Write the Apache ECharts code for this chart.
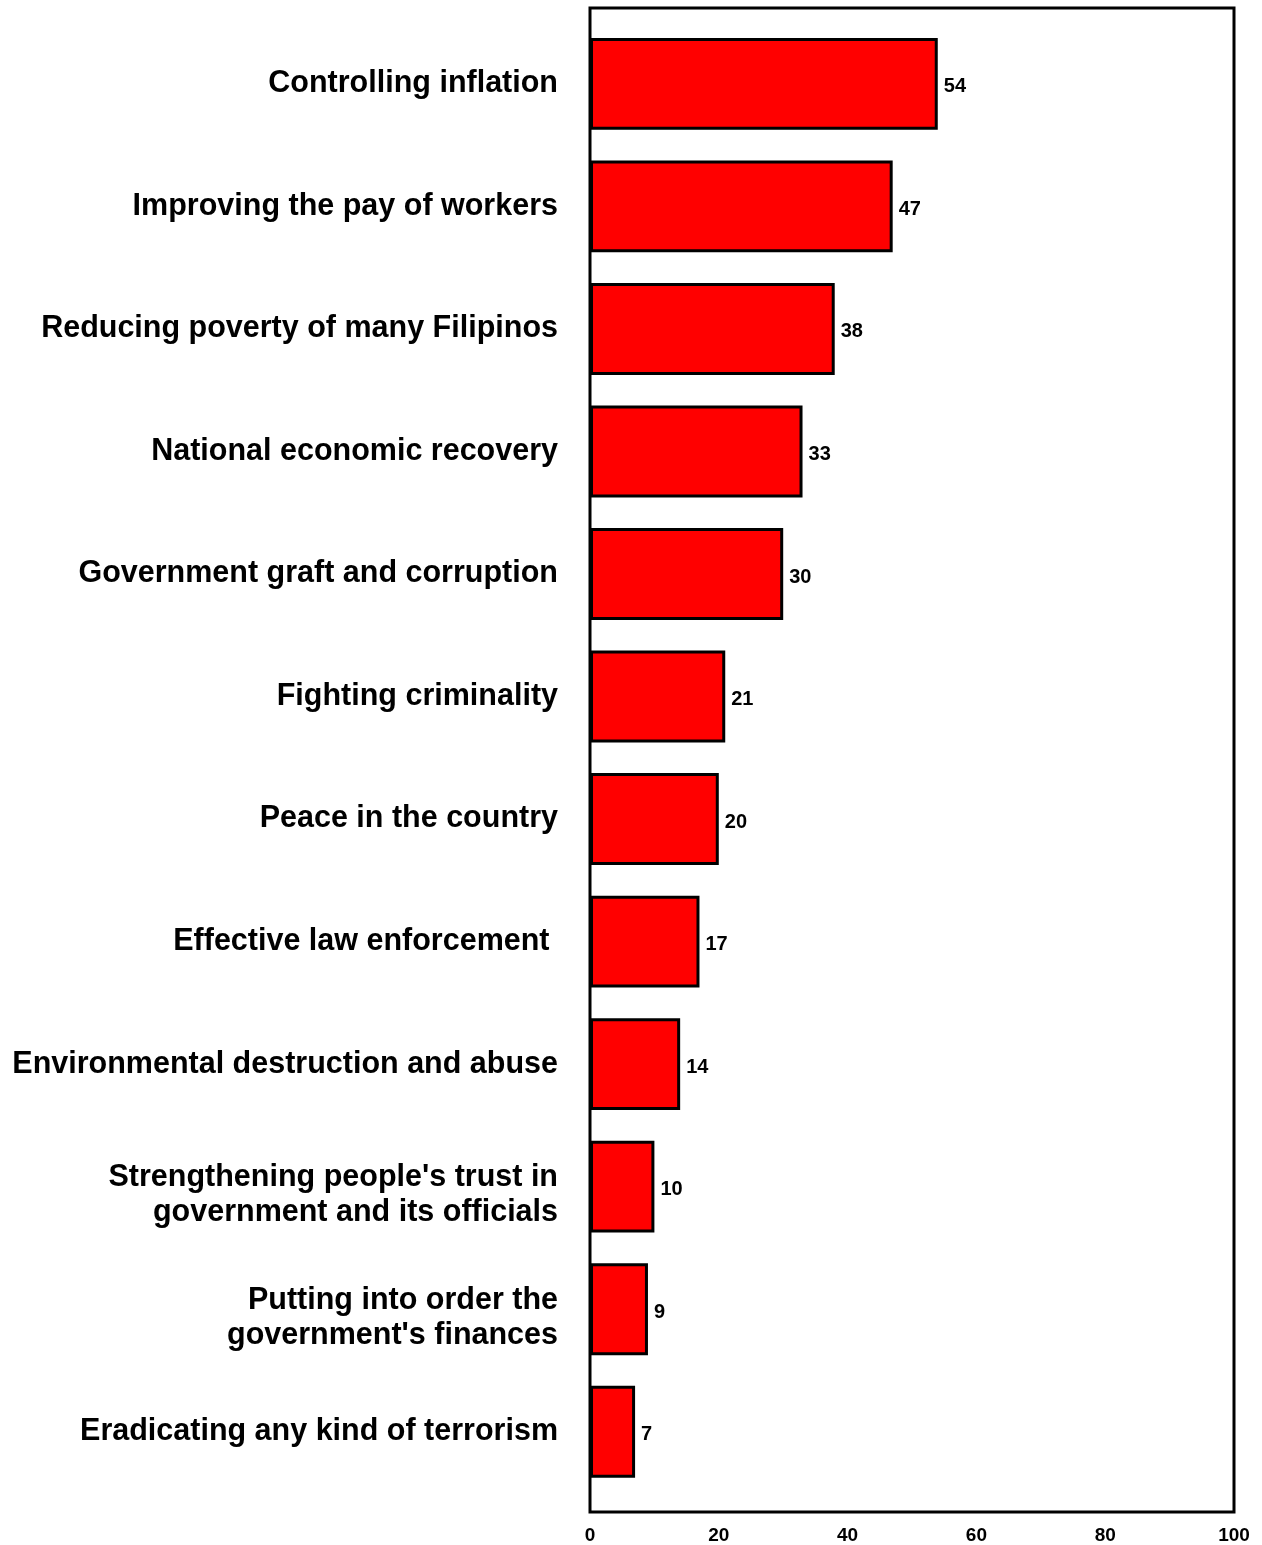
<!DOCTYPE html>
<html>
<head>
<meta charset="utf-8">
<script src="https://cdn.jsdelivr.net/npm/echarts@6/dist/echarts.min.js"></script>
<style>
html,body{margin:0;padding:0;background:#fff;}
#main{width:1262px;height:1545px;}
</style>
</head>
<body>
<div id="main"></div>
<script>
const categories = [
  "Controlling inflation",
  "Improving the pay of workers",
  "Reducing poverty of many Filipinos",
  "National economic recovery",
  "Government graft and corruption",
  "Fighting criminality",
  "Peace in the country",
  "Effective law enforcement ",
  "Environmental destruction and abuse",
  "Strengthening people's trust in\ngovernment and its officials",
  "Putting into order the\ngovernment's finances",
  "Eradicating any kind of terrorism"
];
const values = [54, 47, 38, 33, 30, 21, 20, 17, 14, 10, 9, 7];
const xTicks = [0, 20, 40, 60, 80, 100];

const chart = echarts.init(document.getElementById('main'), null, {renderer: 'canvas'});
const FONT = 'Liberation Sans, Arial, sans-serif';
chart.setOption({
  backgroundColor: '#fff',
  animation: false,
  grid: {left: 590, right: 28, top: 22.6, bottom: 48.6, containLabel: false},
  xAxis: {
    type: 'value', min: 0, max: 100, interval: 20,
    axisLine: {show: false}, axisTick: {show: false}, splitLine: {show: false},
    axisLabel: {
      margin: 33, fontSize: 19, fontWeight: 'bold', color: '#000', fontFamily: FONT,
      formatter: v => xTicks.includes(v) ? String(v) : ''
    }
  },
  yAxis: {
    type: 'category', data: categories, inverse: true,
    axisLine: {show: false}, axisTick: {show: false},
    axisLabel: {
      margin: 32, fontSize: 30.5, fontWeight: 'bold', color: '#000', fontFamily: FONT,
      lineHeight: 35, align: 'right',
      formatter: v => v.indexOf('\n') >= 0 ? '{m|' + v.split('\n').join('}\n{m|') + '}' : v,
      rich: {m: {fontSize: 30.5, fontWeight: 'bold', color: '#000', fontFamily: FONT, lineHeight: 35, padding: [17, 0, 0, 0]}}
    }
  },
  series: [{
    type: 'bar', data: values, barCategoryGap: '25%',
    itemStyle: {color: '#ff0000', borderColor: '#000', borderWidth: 3},
    label: {
      show: true, position: 'right', distance: 6, offset: [0, 3],
      fontSize: 20, fontWeight: 'bold', color: '#000', fontFamily: FONT
    }
  }],
  graphic: [{
    type: 'rect', z: 100,
    shape: {x: 590, y: 8, width: 644, height: 1504},
    style: {fill: null, stroke: '#000', lineWidth: 3}
  }]
});
</script>
</body>
</html>
